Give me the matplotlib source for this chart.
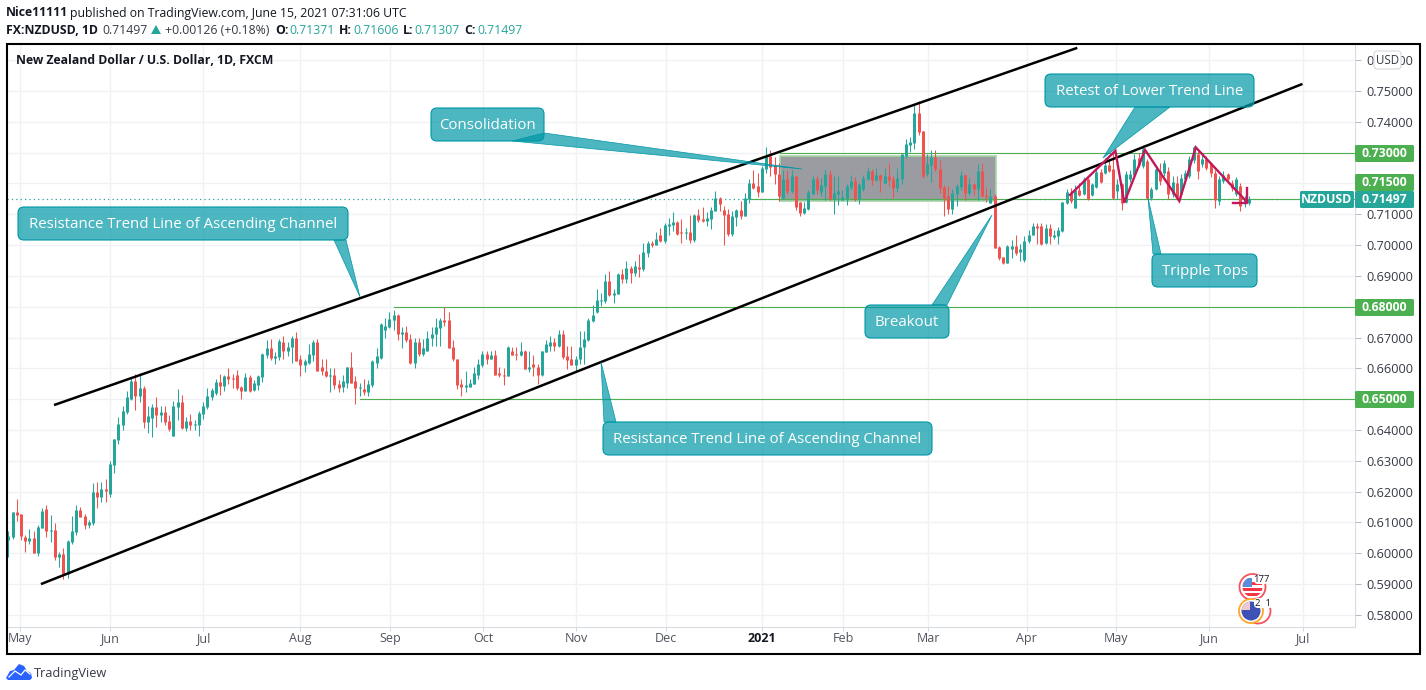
import matplotlib
matplotlib.use('Agg')
import matplotlib.pyplot as plt
import numpy as np
from matplotlib.patches import FancyBboxPatch, Polygon, Circle, Rectangle

GREEN = '#26a69a'
RED = '#ef5350'
LEVEL = '#4caf50'
TEAL_EDGE = '#0097a7'
TEAL_FILL = (0.0, 0.592, 0.655, 0.7)
PINK = '#c2185b'
FONT = 'Open Sans'

opens = [
    0.6043, 0.6053, 0.6133, 0.6127, 0.6052, 0.6039, 0.6049, 0.6000, 0.6082, 0.6143,
    0.6072, 0.6075, 0.5987, 0.5997, 0.5934, 0.6036, 0.6069, 0.6140, 0.6120, 0.6091,
    0.6098, 0.6198, 0.6182, 0.6208, 0.6192, 0.6286, 0.6367, 0.6416, 0.6458, 0.6500,
    0.6559, 0.6510, 0.6536, 0.6426, 0.6439, 0.6474, 0.6448, 0.6458, 0.6429, 0.6380,
    0.6474, 0.6491, 0.6406, 0.6429, 0.6416, 0.6416, 0.6452, 0.6474, 0.6507, 0.6520,
    0.6556, 0.6543, 0.6575, 0.6569, 0.6578, 0.6539, 0.6526, 0.6572, 0.6530, 0.6546,
    0.6572, 0.6643, 0.6665, 0.6633, 0.6636, 0.6687, 0.6658, 0.6668, 0.6700, 0.6629,
    0.6610, 0.6619, 0.6645, 0.6687, 0.6606, 0.6593, 0.6574, 0.6580, 0.6548, 0.6541,
    0.6554, 0.6603, 0.6558, 0.6535, 0.6532, 0.6525, 0.6545, 0.6619, 0.6635, 0.6726,
    0.6733, 0.6756, 0.6772, 0.6710, 0.6717, 0.6694, 0.6616, 0.6684, 0.6648, 0.6655,
    0.6697, 0.6710, 0.6730, 0.6756, 0.6756, 0.6668, 0.6632, 0.6548, 0.6538, 0.6538,
    0.6548, 0.6580, 0.6610, 0.6648, 0.6632, 0.6642, 0.6584, 0.6580, 0.6574, 0.6655,
    0.6648, 0.6642, 0.6658, 0.6597, 0.6613, 0.6606, 0.6577, 0.6652, 0.6674, 0.6687,
    0.6674, 0.6710, 0.6639, 0.6629, 0.6610, 0.6629, 0.6668, 0.6692, 0.6753, 0.6784,
    0.6818, 0.6818, 0.6883, 0.6837, 0.6841, 0.6906, 0.6889, 0.6925, 0.6909, 0.6928,
    0.6922, 0.6974, 0.7006, 0.6999, 0.7032, 0.7013, 0.7061, 0.7065, 0.7074, 0.7042,
    0.7039, 0.7042, 0.7016, 0.7097, 0.7084, 0.7078, 0.7084, 0.7110, 0.7152, 0.7113,
    0.7100, 0.7035, 0.7091, 0.7113, 0.7094, 0.7149, 0.7201, 0.7191, 0.7172, 0.7246,
    0.7289, 0.7259, 0.7232, 0.7154, 0.7214, 0.7175, 0.7224, 0.7139, 0.7104, 0.7117,
    0.7167, 0.7214, 0.7173, 0.7193, 0.7232, 0.7151, 0.7167, 0.7147, 0.7154, 0.7190,
    0.7209, 0.7151, 0.7183, 0.7216, 0.7242, 0.7212, 0.7229, 0.7203, 0.7225, 0.7215,
    0.7186, 0.7216, 0.7290, 0.7326, 0.7332, 0.7430, 0.7371, 0.7232, 0.7261, 0.7287,
    0.7248, 0.7190, 0.7160, 0.7118, 0.7167, 0.7190, 0.7229, 0.7170, 0.7199, 0.7183,
    0.7242, 0.7164, 0.7138, 0.7160, 0.6995, 0.6962, 0.6943, 0.6988, 0.6998, 0.6977,
    0.6951, 0.7012, 0.7032, 0.7061, 0.7061, 0.7006, 0.7054, 0.7025, 0.7028, 0.7045,
    0.7136, 0.7171, 0.7122, 0.7178, 0.7165, 0.7214, 0.7162, 0.7187, 0.7236, 0.7233,
    0.7259, 0.7246, 0.7175, 0.7197, 0.7140, 0.7214, 0.7226, 0.7284, 0.7257, 0.7273,
    0.7154, 0.7181, 0.7240, 0.7235, 0.7240, 0.7165, 0.7203, 0.7165, 0.7216, 0.7224,
    0.7276, 0.7295, 0.7262, 0.7278, 0.7262, 0.7235, 0.7143, 0.7209, 0.7230, 0.7203,
    0.7165, 0.7192, 0.7136, 0.71371,
]
highs = [
    0.6072, 0.6133, 0.6175, 0.6127, 0.6059, 0.6078, 0.6071, 0.6091, 0.6146, 0.6156,
    0.6124, 0.6097, 0.6004, 0.6017, 0.6043, 0.6120, 0.6156, 0.6150, 0.6129, 0.6107,
    0.6228, 0.6231, 0.6231, 0.6241, 0.6299, 0.6370, 0.6442, 0.6478, 0.6526, 0.6569,
    0.6582, 0.6585, 0.6543, 0.6478, 0.6484, 0.6507, 0.6478, 0.6478, 0.6448, 0.6494,
    0.6533, 0.6513, 0.6442, 0.6452, 0.6432, 0.6461, 0.6491, 0.6536, 0.6536, 0.6565,
    0.6582, 0.6578, 0.6601, 0.6582, 0.6595, 0.6543, 0.6585, 0.6578, 0.6562, 0.6578,
    0.6650, 0.6691, 0.6695, 0.6652, 0.6695, 0.6704, 0.6687, 0.6704, 0.6717, 0.6645,
    0.6629, 0.6678, 0.6691, 0.6694, 0.6629, 0.6629, 0.6600, 0.6600, 0.6561, 0.6577,
    0.6603, 0.6652, 0.6574, 0.6551, 0.6567, 0.6561, 0.6626, 0.6665, 0.6746, 0.6765,
    0.6782, 0.6791, 0.6778, 0.6733, 0.6736, 0.6713, 0.6700, 0.6700, 0.6694, 0.6720,
    0.6733, 0.6762, 0.6765, 0.6800, 0.6782, 0.6691, 0.6632, 0.6564, 0.6593, 0.6567,
    0.6603, 0.6629, 0.6655, 0.6655, 0.6655, 0.6661, 0.6603, 0.6600, 0.6674, 0.6671,
    0.6671, 0.6684, 0.6661, 0.6655, 0.6645, 0.6613, 0.6655, 0.6691, 0.6704, 0.6700,
    0.6726, 0.6723, 0.6674, 0.6674, 0.6639, 0.6720, 0.6720, 0.6763, 0.6805, 0.6857,
    0.6844, 0.6906, 0.6915, 0.6857, 0.6909, 0.6922, 0.6948, 0.6932, 0.6948, 0.6970,
    0.7006, 0.7013, 0.7013, 0.7042, 0.7055, 0.7071, 0.7087, 0.7107, 0.7078, 0.7084,
    0.7055, 0.7097, 0.7100, 0.7117, 0.7123, 0.7107, 0.7123, 0.7175, 0.7156, 0.7126,
    0.7117, 0.7110, 0.7117, 0.7143, 0.7169, 0.7214, 0.7243, 0.7233, 0.7256, 0.7318,
    0.7308, 0.7285, 0.7266, 0.7243, 0.7243, 0.7243, 0.7224, 0.7139, 0.7139, 0.7178,
    0.7224, 0.7224, 0.7219, 0.7248, 0.7245, 0.7225, 0.7225, 0.7180, 0.7199, 0.7229,
    0.7221, 0.7203, 0.7229, 0.7255, 0.7247, 0.7251, 0.7232, 0.7251, 0.7268, 0.7225,
    0.7251, 0.7294, 0.7345, 0.7352, 0.7456, 0.7466, 0.7371, 0.7294, 0.7307, 0.7307,
    0.7277, 0.7196, 0.7193, 0.7183, 0.7199, 0.7242, 0.7232, 0.7219, 0.7203, 0.7264,
    0.7268, 0.7186, 0.7183, 0.7167, 0.6998, 0.6962, 0.7001, 0.7018, 0.7034, 0.7002,
    0.7030, 0.7048, 0.7071, 0.7071, 0.7071, 0.7067, 0.7067, 0.7048, 0.7058, 0.7139,
    0.7181, 0.7186, 0.7195, 0.7203, 0.7222, 0.7218, 0.7203, 0.7246, 0.7246, 0.7281,
    0.7273, 0.7300, 0.7213, 0.7203, 0.7240, 0.7245, 0.7295, 0.7300, 0.7325, 0.7280,
    0.7190, 0.7255, 0.7265, 0.7275, 0.7255, 0.7225, 0.7225, 0.7230, 0.7245, 0.7290,
    0.7320, 0.7305, 0.7295, 0.7290, 0.7270, 0.7245, 0.7225, 0.7240, 0.7235, 0.7212,
    0.7222, 0.7200, 0.7160, 0.71606,
]
lows = [
    0.5988, 0.6046, 0.6105, 0.6043, 0.6005, 0.6030, 0.6000, 0.5991, 0.6082, 0.6052,
    0.6036, 0.5978, 0.5955, 0.5916, 0.5919, 0.6030, 0.6059, 0.6117, 0.6078, 0.6082,
    0.6091, 0.6146, 0.6166, 0.6166, 0.6182, 0.6260, 0.6354, 0.6400, 0.6452, 0.6497,
    0.6465, 0.6491, 0.6406, 0.6390, 0.6377, 0.6409, 0.6426, 0.6416, 0.6396, 0.6380,
    0.6432, 0.6403, 0.6396, 0.6400, 0.6400, 0.6380, 0.6435, 0.6468, 0.6497, 0.6513,
    0.6513, 0.6526, 0.6549, 0.6536, 0.6530, 0.6500, 0.6526, 0.6523, 0.6526, 0.6530,
    0.6556, 0.6635, 0.6626, 0.6613, 0.6626, 0.6632, 0.6639, 0.6619, 0.6623, 0.6574,
    0.6587, 0.6613, 0.6623, 0.6593, 0.6577, 0.6571, 0.6522, 0.6532, 0.6525, 0.6522,
    0.6535, 0.6554, 0.6486, 0.6512, 0.6515, 0.6512, 0.6538, 0.6600, 0.6632, 0.6697,
    0.6730, 0.6726, 0.6691, 0.6665, 0.6687, 0.6613, 0.6600, 0.6639, 0.6639, 0.6655,
    0.6674, 0.6674, 0.6674, 0.6739, 0.6665, 0.6623, 0.6532, 0.6509, 0.6525, 0.6538,
    0.6548, 0.6567, 0.6606, 0.6613, 0.6629, 0.6577, 0.6571, 0.6545, 0.6574, 0.6642,
    0.6626, 0.6639, 0.6597, 0.6587, 0.6574, 0.6548, 0.6574, 0.6652, 0.6655, 0.6658,
    0.6668, 0.6632, 0.6597, 0.6610, 0.6587, 0.6613, 0.6613, 0.6688, 0.6749, 0.6781,
    0.6802, 0.6811, 0.6834, 0.6811, 0.6841, 0.6876, 0.6876, 0.6876, 0.6899, 0.6896,
    0.6915, 0.6961, 0.6993, 0.6999, 0.7009, 0.7006, 0.7032, 0.7045, 0.7032, 0.7006,
    0.7019, 0.7006, 0.7009, 0.7074, 0.7074, 0.7061, 0.7052, 0.7110, 0.7110, 0.6999,
    0.7029, 0.7029, 0.7061, 0.7084, 0.7094, 0.7136, 0.7181, 0.7156, 0.7172, 0.7233,
    0.7224, 0.7198, 0.7144, 0.7149, 0.7165, 0.7169, 0.7113, 0.7094, 0.7100, 0.7113,
    0.7165, 0.7165, 0.7160, 0.7147, 0.7147, 0.7102, 0.7131, 0.7147, 0.7131, 0.7180,
    0.7144, 0.7134, 0.7177, 0.7212, 0.7196, 0.7209, 0.7173, 0.7199, 0.7193, 0.7154,
    0.7173, 0.7199, 0.7281, 0.7303, 0.7313, 0.7358, 0.7219, 0.7225, 0.7206, 0.7242,
    0.7170, 0.7095, 0.7102, 0.7102, 0.7128, 0.7180, 0.7147, 0.7164, 0.7164, 0.7147,
    0.7157, 0.7141, 0.7138, 0.6992, 0.6953, 0.6940, 0.6943, 0.6958, 0.6969, 0.6947,
    0.6944, 0.7006, 0.7032, 0.7002, 0.6999, 0.7002, 0.7002, 0.7019, 0.7002, 0.7042,
    0.7132, 0.7136, 0.7120, 0.7159, 0.7162, 0.7146, 0.7159, 0.7185, 0.7201, 0.7230,
    0.7236, 0.7150, 0.7150, 0.7114, 0.7135, 0.7205, 0.7220, 0.7255, 0.7250, 0.7150,
    0.7145, 0.7178, 0.7195, 0.7225, 0.7150, 0.7155, 0.7148, 0.7155, 0.7210, 0.7218,
    0.7265, 0.7213, 0.7255, 0.7245, 0.7222, 0.7122, 0.7130, 0.7200, 0.7205, 0.7175,
    0.7160, 0.7112, 0.7125, 0.71307,
]
closes = [
    0.6056, 0.6133, 0.6124, 0.6056, 0.6039, 0.6049, 0.6000, 0.6085, 0.6137, 0.6072,
    0.6075, 0.5987, 0.5997, 0.5929, 0.6039, 0.6072, 0.6140, 0.6117, 0.6091, 0.6101,
    0.6198, 0.6182, 0.6208, 0.6202, 0.6289, 0.6370, 0.6419, 0.6461, 0.6507, 0.6559,
    0.6510, 0.6536, 0.6426, 0.6445, 0.6474, 0.6448, 0.6458, 0.6426, 0.6403, 0.6478,
    0.6491, 0.6406, 0.6429, 0.6416, 0.6419, 0.6455, 0.6478, 0.6510, 0.6530, 0.6556,
    0.6543, 0.6575, 0.6565, 0.6565, 0.6536, 0.6526, 0.6572, 0.6526, 0.6552, 0.6575,
    0.6646, 0.6665, 0.6633, 0.6639, 0.6688, 0.6658, 0.6671, 0.6700, 0.6623, 0.6610,
    0.6623, 0.6648, 0.6687, 0.6593, 0.6590, 0.6574, 0.6580, 0.6545, 0.6535, 0.6558,
    0.6603, 0.6554, 0.6535, 0.6538, 0.6525, 0.6548, 0.6623, 0.6639, 0.6743, 0.6736,
    0.6759, 0.6772, 0.6710, 0.6717, 0.6691, 0.6616, 0.6684, 0.6648, 0.6665, 0.6700,
    0.6713, 0.6733, 0.6756, 0.6749, 0.6665, 0.6629, 0.6545, 0.6538, 0.6545, 0.6551,
    0.6584, 0.6613, 0.6648, 0.6632, 0.6642, 0.6580, 0.6577, 0.6574, 0.6668, 0.6645,
    0.6642, 0.6658, 0.6597, 0.6603, 0.6603, 0.6577, 0.6655, 0.6678, 0.6687, 0.6674,
    0.6710, 0.6636, 0.6626, 0.6610, 0.6632, 0.6671, 0.6694, 0.6756, 0.6772, 0.6821,
    0.6821, 0.6883, 0.6837, 0.6844, 0.6906, 0.6889, 0.6925, 0.6909, 0.6932, 0.6922,
    0.6977, 0.7006, 0.6999, 0.7019, 0.7013, 0.7065, 0.7068, 0.7074, 0.7035, 0.7039,
    0.7042, 0.7016, 0.7097, 0.7081, 0.7078, 0.7087, 0.7113, 0.7152, 0.7133, 0.7097,
    0.7035, 0.7094, 0.7113, 0.7094, 0.7152, 0.7201, 0.7185, 0.7172, 0.7250, 0.7289,
    0.7253, 0.7230, 0.7160, 0.7214, 0.7175, 0.7224, 0.7123, 0.7104, 0.7120, 0.7172,
    0.7214, 0.7178, 0.7196, 0.7232, 0.7151, 0.7170, 0.7177, 0.7157, 0.7193, 0.7209,
    0.7151, 0.7199, 0.7219, 0.7242, 0.7212, 0.7229, 0.7212, 0.7225, 0.7212, 0.7186,
    0.7219, 0.7294, 0.7329, 0.7336, 0.7430, 0.7368, 0.7225, 0.7264, 0.7287, 0.7248,
    0.7186, 0.7154, 0.7118, 0.7170, 0.7193, 0.7229, 0.7170, 0.7199, 0.7183, 0.7242,
    0.7160, 0.7157, 0.7160, 0.6992, 0.6959, 0.6943, 0.6998, 0.6998, 0.6975, 0.6986,
    0.7012, 0.7032, 0.7061, 0.7054, 0.7002, 0.7054, 0.7028, 0.7032, 0.7048, 0.7139,
    0.7171, 0.7142, 0.7178, 0.7164, 0.7214, 0.7151, 0.7197, 0.7236, 0.7204, 0.7259,
    0.7240, 0.7154, 0.7197, 0.7135, 0.7230, 0.7230, 0.7278, 0.7261, 0.7311, 0.7154,
    0.7181, 0.7246, 0.7208, 0.7267, 0.7165, 0.7205, 0.7157, 0.7219, 0.7235, 0.7278,
    0.7319, 0.7240, 0.7278, 0.7251, 0.7235, 0.7145, 0.7214, 0.7228, 0.7214, 0.7186,
    0.7214, 0.7127, 0.7154, 0.71497,
]

price_ticks = [0.58, 0.59, 0.60, 0.61, 0.62, 0.63, 0.64, 0.65, 0.66, 0.67, 0.68,
               0.69, 0.70, 0.71, 0.72, 0.73, 0.74, 0.75, 0.76]
# these sit behind the coloured level tags
hidden_ticks = [0.65, 0.68, 0.72, 0.73]
month_labels = ['May', 'Jun', 'Jul', 'Aug', 'Sep', 'Oct', 'Nov', 'Dec', '2021',
                'Feb', 'Mar', 'Apr', 'May', 'Jun', 'Jul']
month_bars = [2.83, 24.0, 46.1, 69.0, 90.2, 112.2, 134.1, 155.3, 178.0, 197.2,
              217.3, 240.6, 261.7, 283.5, 305.7]

# drawings, x in bars, y in price
upper_x = [10.8, 252.5]
upper_y = [0.6481, 0.7640]
lower_x = [7.7, 305.7]
lower_y = [0.5900, 0.7523]
level_prices = [0.73, 0.715, 0.68, 0.65]
level_starts = [182.3, 175.2, 91.1, 83.1]
pattern_x = [250.8, 261.5, 263.6, 268.5, 276.6, 280.5, 292.5]
pattern_y = [0.7163, 0.7306, 0.7138, 0.7309, 0.7143, 0.7317, 0.7141]
last_price = 0.71497

fig = plt.figure(figsize=(14.26, 6.90), dpi=100)
ax = fig.add_axes([7 / 1426, 1 - 627 / 690, 1348 / 1426, 583 / 690])
ax.set_xlim(-0.31, 318.1)
ax.set_ylim(0.57609, 0.76525)

idx = np.arange(len(opens))
o = np.array(opens)
h = np.array(highs)
l = np.array(lows)
c = np.array(closes)
up = c >= o
colors = np.where(up, GREEN, RED)

ax.set_axisbelow(True)
ax.grid(True, color='#f0f1f4', lw=1.0)
ax.set_yticks(price_ticks)
ax.set_yticklabels(['' if p in hidden_ticks else '%.5f' % p for p in price_ticks])
ax.yaxis.tick_right()
ax.set_xticks(month_bars)
ax.set_xticklabels(month_labels)
ax.tick_params(axis='y', length=4, width=0.7, color='#b2b5be', labelcolor='#363a45',
               labelsize=9.2, pad=4)
ax.tick_params(axis='x', length=3, width=0.7, color='#d1d4dc', labelcolor='#50535e',
               labelsize=9.0, pad=0.3)
for t in ax.get_xticklabels() + ax.get_yticklabels():
    t.set_family(FONT)
ax.get_xticklabels()[8].set_fontweight('bold')
ax.get_xticklabels()[8].set_color('#131722')
for s in ['top', 'left']:
    ax.spines[s].set_visible(False)
ax.spines['right'].set_color('#d9dbe2')
ax.spines['bottom'].set_color('#d9dbe2')

# consolidation box under the candles
ax.add_patch(Rectangle((182.3, 0.7143), 51.0, 0.0146, fc='#9b9ca2', ec='#a5d6a7', lw=1.2, zorder=1.5))
ax.axhline(last_price, color=GREEN, lw=0.9, ls=(0, (1, 2.5)), zorder=1.6)
for p, s in zip(level_prices, level_starts):
    ax.plot([s, 318.1], [p, p], color=LEVEL, lw=0.8, zorder=1.7)

ax.vlines(idx, l, h, colors=colors, lw=0.75, zorder=2)
body_low = np.minimum(o, c)
body_high = np.maximum(np.maximum(o, c), body_low + 0.00025)
ax.vlines(idx, body_low, body_high, colors=colors, lw=2.16, zorder=2.1, capstyle='butt')

ax.plot(upper_x, upper_y, color='black', lw=1.8, zorder=3, solid_capstyle='butt')
ax.plot(lower_x, lower_y, color='black', lw=1.8, zorder=3, solid_capstyle='butt')
ax.plot(pattern_x, pattern_y, color=PINK, lw=1.7, zorder=4, solid_joinstyle='miter')
ax.plot([289.4, 292.5, 292.5], [0.7137, 0.7137, 0.7185], color=PINK, lw=1.7, zorder=4)

# overlay in figure pixels for page furniture
ov = fig.add_axes([0, 0, 1, 1], zorder=5)
ov.set_xlim(0, 1426)
ov.set_ylim(690, 0)
ov.axis('off')
ov.patch.set_alpha(0)

ov.add_patch(Rectangle((6.5, 43.5), 1413, 610, fc='none', ec='black', lw=1.5))


def label(x, y, s, size=8.8, weight='normal', color='#131722', ha='left', family=FONT):
    ov.text(x, y, s, fontsize=size, fontweight=weight, color=color, ha=ha, va='center', family=family)


label(6, 13, 'Nice11111', weight='bold')
label(69.5, 13, 'published on TradingView.com, June 15, 2021 07:31:06 UTC')
label(6, 30, 'FX:NZDUSD, 1D', weight='bold')
label(102, 30, '0.71497', color='#363a45')
ov.add_patch(Polygon([[151, 34], [161, 34], [156, 25]], fc=GREEN, ec='none'))
label(165, 30, '+0.00126 (+0.18%)', color='#363a45')
for x, name, x2, val in [(275, 'O:', 289, '0.71371'), (339, 'H:', 353, '0.71606'),
                         (403, 'L:', 414, '0.71307'), (464, 'C:', 477, '0.71497')]:
    label(x, 30, name, weight='bold')
    label(x2, 30, val, color=GREEN)
label(16, 61, 'New Zealand Dollar / U.S. Dollar, 1D, FXCM', weight='bold')

label(34, 673, 'TradingView', size=9.2, color='#363a45')
ov.add_patch(Polygon([[6, 678], [10, 671], [14, 670], [19, 664], [24, 666], [27, 671],
                      [31, 673], [32, 678], [30, 680], [8, 680]], fc='#2962ff', ec='none'))
ov.plot([9, 15, 21, 25, 30], [677, 671, 675, 670, 674], color='white', lw=0.9)


def callout(x0, y0, x1, y1, tail, s):
    ov.add_patch(FancyBboxPatch((x0, y0), x1 - x0, y1 - y0, boxstyle='round,pad=0,rounding_size=6',
                                fc=TEAL_FILL, ec=TEAL_EDGE, lw=0.8))
    ov.add_patch(Polygon(tail, fc=TEAL_FILL, ec=TEAL_EDGE, lw=0.5))
    ov.text((x0 + x1) / 2, (y0 + y1) / 2 + 1, s, color='white', fontsize=10.85, ha='center', va='center', family=FONT)


callout(431, 108, 544, 141, [[512, 141], [802, 169], [544, 133]], 'Consolidation')
callout(18, 207, 348, 240, [[334, 240], [360, 297], [346, 240]], 'Resistance Trend Line of Ascending Channel')
callout(1045, 74, 1254, 107, [[1135, 107], [1103, 158], [1170, 107]], 'Retest of Lower Trend Line')
callout(603, 422, 932, 455, [[604, 422], [601, 362], [616, 422]], 'Resistance Trend Line of Ascending Channel')
callout(865, 305, 949, 338, [[932, 305], [992, 215], [947, 305]], 'Breakout')
callout(1152, 254, 1257, 287, [[1153, 254], [1148, 198], [1161, 254]], 'Tripple Tops')


def tag(x0, x1, yc, color, s):
    ov.add_patch(FancyBboxPatch((x0, yc - 8.5), x1 - x0, 17, boxstyle='round,pad=0,rounding_size=1.5',
                                fc=color, ec='none'))
    ov.text((x0 + x1) / 2, yc, s, color='white', fontsize=8.8, fontweight='bold', ha='center',
            va='center', family=FONT)


tag(1355, 1414, 153.5, LEVEL, '0.73000')
tag(1355, 1414, 182.5, LEVEL, '0.71500')
tag(1355, 1414, 307.5, LEVEL, '0.68000')
tag(1355, 1414, 399.5, LEVEL, '0.65000')
tag(1355, 1414, 199.5, GREEN, '0.71497')
tag(1300, 1354, 199.5, GREEN, 'NZDUSD')

# currency button over the top price
ov.add_patch(FancyBboxPatch((1374, 51), 27, 18, boxstyle='round,pad=0,rounding_size=3', fc='white', ec='#d6d8e0', lw=0.8))
label(1387.5, 60, 'USD', size=8.3, ha='center', color='#363a45')

# economic event flags
for cx, cy, r, col in [(1252.5, 587, 13, '#f7525f'), (1258, 611, 12.5, '#f7525f'), (1251, 611, 12, '#ffa726')]:
    ov.add_patch(Circle((cx, cy), r, fc='white', ec=col, lw=1.3))
us = Circle((1252.5, 587), 10, fc='white', ec='none')
ov.add_patch(us)
for yy in [582, 588, 593]:
    st = ov.add_patch(Rectangle((1240, yy), 26, 3, fc='#f23645', ec='none'))
    st.set_clip_path(us)
blue = ov.add_patch(Rectangle((1242, 578), 10, 9, fc='#5b8dd9', ec='none'))
blue.set_clip_path(us)
nz = Circle((1251, 611), 9.5, fc='#3f51b5', ec='none')
ov.add_patch(nz)
corner = ov.add_patch(Rectangle((1242, 602), 8, 8, fc='#f0c8d0', ec='none'))
corner.set_clip_path(nz)
ov.add_patch(FancyBboxPatch((1254, 575), 14, 9, boxstyle='round,pad=0,rounding_size=4', fc='white', ec='none'))
label(1261, 579.5, '177', size=6.8, ha='center', color='#131722')
ov.add_patch(FancyBboxPatch((1254, 598), 19, 10, boxstyle='round,pad=0,rounding_size=4', fc='white', ec='none'))
label(1263, 603, '2  1', size=6.8, ha='center', color='#131722')

fig.savefig('out.png', dpi=100)
